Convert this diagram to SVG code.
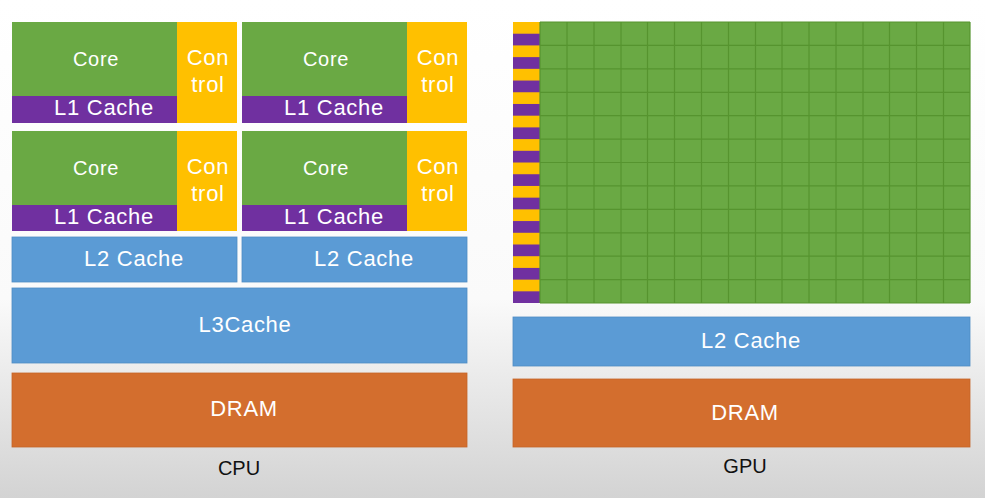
<svg xmlns="http://www.w3.org/2000/svg" width="985" height="498" viewBox="0 0 985 498">
<defs>
<linearGradient id="bg" x1="0" y1="0" x2="0" y2="1">
<stop offset="0" stop-color="#ffffff"/>
<stop offset="0.6" stop-color="#fafafa"/>
<stop offset="1" stop-color="#d3d3d3"/>
</linearGradient>
<pattern id="stripe" x="513" y="22" width="27" height="23.42" patternUnits="userSpaceOnUse">
<rect x="0" y="0" width="27" height="11.7" fill="#ffc000"/>
<rect x="0" y="11.7" width="27" height="11.72" fill="#7030a0"/>
</pattern>
</defs>
<style>
.core{fill:#6aa944}
.ctl{fill:#ffc000}
.l1{fill:#7030a0}
.blue{fill:#5b9bd5;stroke:#4f8cc4;stroke-width:0.8}
.dram{fill:#d36e2e;stroke:#c5652a;stroke-width:0.8}
.t{font-family:"Liberation Sans",Arial,sans-serif;fill:#ffffff;text-anchor:middle;font-size:22px;letter-spacing:0.7px}
.ts{font-size:20px}
.lab{font-family:"Liberation Sans",Arial,sans-serif;fill:#111111;text-anchor:middle;font-size:20px}
.grid{stroke:#56942f;stroke-width:1.2;fill:none}
</style>
<rect x="0" y="0" width="985" height="498" fill="url(#bg)"/>

<g id="cpu">
<g id="cpu-core-1">
<rect class="core" x="12" y="22" width="165" height="74"/>
<rect class="l1" x="12" y="96" width="165" height="27"/>
<rect class="ctl" x="177" y="22" width="60" height="101"/>
<text class="t ts" x="96" y="66">Core</text>
<text class="t" x="104" y="115">L1 Cache</text>
<text class="t" x="208" y="65">Con</text>
<text class="t" x="208" y="92">trol</text>
</g>
<g id="cpu-core-2">
<rect class="core" x="242" y="22" width="165" height="74"/>
<rect class="l1" x="242" y="96" width="165" height="27"/>
<rect class="ctl" x="407" y="22" width="60" height="101"/>
<text class="t ts" x="326" y="66">Core</text>
<text class="t" x="334" y="115">L1 Cache</text>
<text class="t" x="438" y="65">Con</text>
<text class="t" x="438" y="92">trol</text>
</g>
<g id="cpu-core-3">
<rect class="core" x="12" y="131" width="165" height="74"/>
<rect class="l1" x="12" y="205" width="165" height="26"/>
<rect class="ctl" x="177" y="131" width="60" height="100"/>
<text class="t ts" x="96" y="175">Core</text>
<text class="t" x="104" y="224">L1 Cache</text>
<text class="t" x="208" y="174">Con</text>
<text class="t" x="208" y="201">trol</text>
</g>
<g id="cpu-core-4">
<rect class="core" x="242" y="131" width="165" height="74"/>
<rect class="l1" x="242" y="205" width="165" height="26"/>
<rect class="ctl" x="407" y="131" width="60" height="100"/>
<text class="t ts" x="326" y="175">Core</text>
<text class="t" x="334" y="224">L1 Cache</text>
<text class="t" x="438" y="174">Con</text>
<text class="t" x="438" y="201">trol</text>
</g>
<g id="cpu-l2-1">
<rect class="blue" x="12" y="237" width="225" height="45"/>
<text class="t" x="134" y="266">L2 Cache</text>
</g>
<g id="cpu-l2-2">
<rect class="blue" x="242" y="237" width="225" height="45"/>
<text class="t" x="364" y="266">L2 Cache</text>
</g>
<g id="cpu-l3">
<rect class="blue" x="12" y="288" width="455" height="75"/>
<text class="t" x="245" y="332">L3Cache</text>
</g>
<g id="cpu-dram">
<rect class="dram" x="12" y="373" width="455" height="74"/>
<text class="t" x="244" y="416">DRAM</text>
</g>
<text class="lab" x="239" y="475">CPU</text>
</g>

<g id="gpu">
<g id="gpu-cores">
<rect x="513" y="22" width="27" height="281" fill="url(#stripe)"/>
<rect class="core" x="540" y="22" width="430" height="281"/>
<path class="grid" d="M540 22V303M567 22V303M594 22V303M621 22V303M647.5 22V303M674.5 22V303M701.5 22V303M728.5 22V303M755.5 22V303M782 22V303M809 22V303M836 22V303M863 22V303M889.5 22V303M916.5 22V303M943.5 22V303M970 22V303"/>
<path class="grid" d="M540 22H970M540 45.4H970M540 68.8H970M540 92.3H970M540 115.7H970M540 139.1H970M540 162.5H970M540 185.9H970M540 209.4H970M540 232.8H970M540 256.2H970M540 279.6H970M540 303H970"/>
</g>
<g id="gpu-l2">
<rect class="blue" x="513" y="317" width="457" height="49"/>
<text class="t" x="751" y="348">L2 Cache</text>
</g>
<g id="gpu-dram">
<rect class="dram" x="513" y="379" width="457" height="68"/>
<text class="t" x="745" y="420">DRAM</text>
</g>
<text class="lab" x="745" y="473">GPU</text>
</g>
</svg>
